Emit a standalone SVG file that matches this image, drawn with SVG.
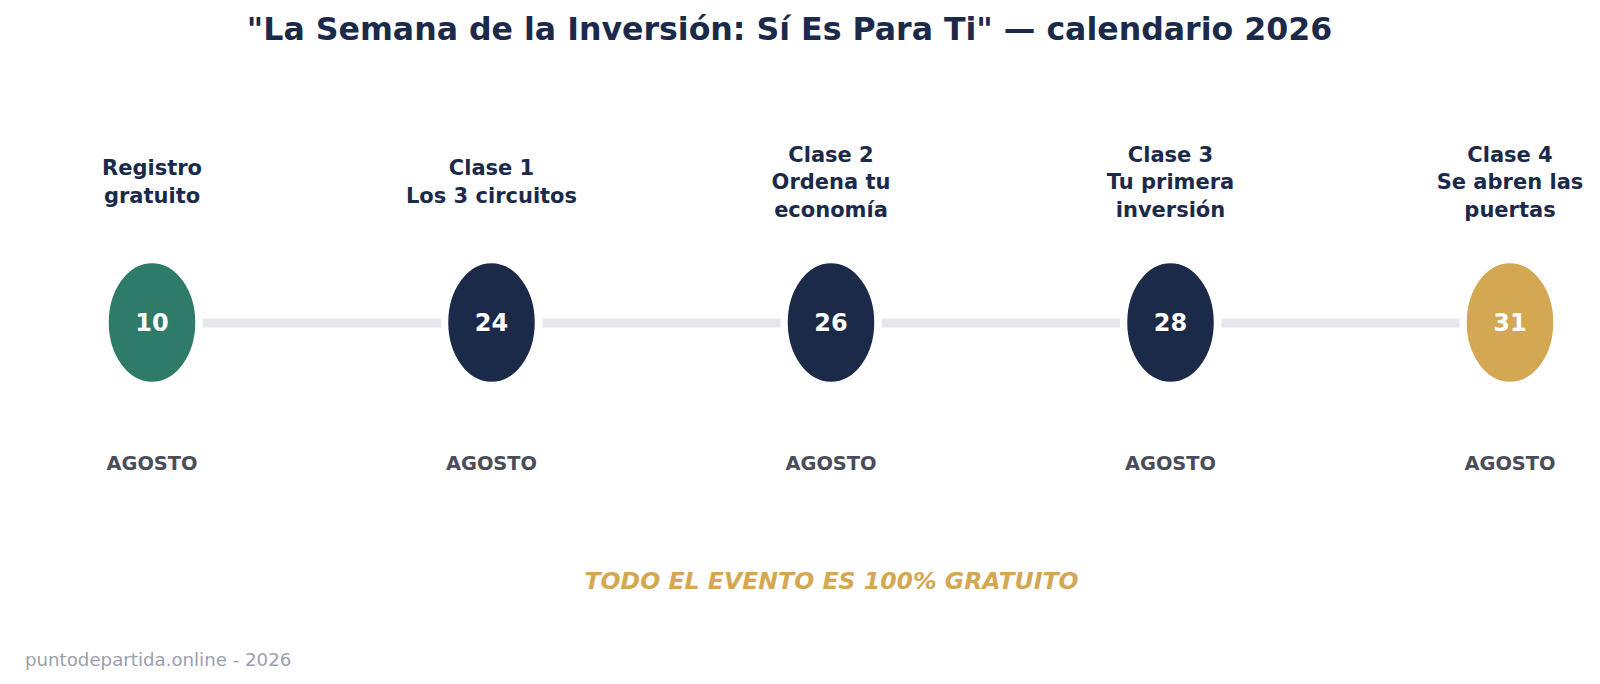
<svg xmlns="http://www.w3.org/2000/svg" width="1600" height="684" viewBox="0 0 1600 684">
<style>
  text { font-family: "DejaVu Sans", "Liberation Sans", sans-serif; text-anchor: middle; }
  .title { font-size: 31.6px; font-weight: bold; fill: #1c2a4a; }
  .lbl { font-size: 21px; font-weight: bold; fill: #1c2a4a; }
  .num { font-size: 24px; font-weight: bold; fill: #ffffff; }
  .mon { font-size: 19.4px; font-weight: bold; fill: #4a4d59; }
  .free { font-size: 23.6px; font-weight: bold; font-style: italic; fill: #d4a752; }
  .foot { font-size: 18.2px; fill: #9ca0ad; text-anchor: start; }
  .conn { stroke: #e6e7ec; stroke-width: 9; fill: none; }
  .dot { stroke: #ffffff; stroke-width: 1.5; }
</style>
<rect width="1600" height="684" fill="#ffffff"/>
<text class="title" x="789.5" y="39.5">"La Semana de la Inversión: Sí Es Para Ti" — calendario 2026</text>
<g id="connectors">
  <line class="conn" x1="203" y1="323" x2="441" y2="323"/>
  <line class="conn" x1="542.5" y1="323" x2="780.5" y2="323"/>
  <line class="conn" x1="882" y1="323" x2="1120" y2="323"/>
  <line class="conn" x1="1221.5" y1="323" x2="1459.5" y2="323"/>
</g>
<g id="node-10">
  <text class="lbl" x="152" y="175">Registro</text>
  <text class="lbl" x="152" y="202.5">gratuito</text>
  <ellipse class="dot" cx="152" cy="322.5" rx="44" ry="60" fill="#2e7b6a"/>
  <text class="num" x="152" y="331">10</text>
  <text class="mon" x="152" y="469.5">AGOSTO</text>
</g>
<g id="node-24">
  <text class="lbl" x="491.5" y="175">Clase 1</text>
  <text class="lbl" x="491.5" y="202.5">Los 3 circuitos</text>
  <ellipse class="dot" cx="491.5" cy="322.5" rx="44" ry="60" fill="#1c2a4a"/>
  <text class="num" x="491.5" y="331">24</text>
  <text class="mon" x="491.5" y="469.5">AGOSTO</text>
</g>
<g id="node-26">
  <text class="lbl" x="831" y="161.5">Clase 2</text>
  <text class="lbl" x="831" y="189">Ordena tu</text>
  <text class="lbl" x="831" y="216.5">economía</text>
  <ellipse class="dot" cx="831" cy="322.5" rx="44" ry="60" fill="#1c2a4a"/>
  <text class="num" x="831" y="331">26</text>
  <text class="mon" x="831" y="469.5">AGOSTO</text>
</g>
<g id="node-28">
  <text class="lbl" x="1170.5" y="161.5">Clase 3</text>
  <text class="lbl" x="1170.5" y="189">Tu primera</text>
  <text class="lbl" x="1170.5" y="216.5">inversión</text>
  <ellipse class="dot" cx="1170.5" cy="322.5" rx="44" ry="60" fill="#1c2a4a"/>
  <text class="num" x="1170.5" y="331">28</text>
  <text class="mon" x="1170.5" y="469.5">AGOSTO</text>
</g>
<g id="node-31">
  <text class="lbl" x="1510" y="161.5">Clase 4</text>
  <text class="lbl" x="1510" y="189">Se abren las</text>
  <text class="lbl" x="1510" y="216.5">puertas</text>
  <ellipse class="dot" cx="1510" cy="322.5" rx="44" ry="60" fill="#d4a752"/>
  <text class="num" x="1510" y="331">31</text>
  <text class="mon" x="1510" y="469.5">AGOSTO</text>
</g>
<text class="free" x="831.5" y="588.5">TODO EL EVENTO ES 100% GRATUITO</text>
<text class="foot" x="25" y="666">puntodepartida.online - 2026</text>
</svg>
